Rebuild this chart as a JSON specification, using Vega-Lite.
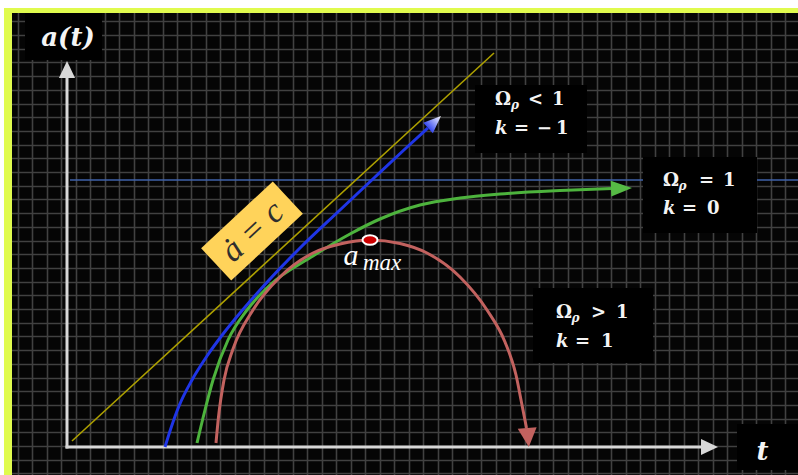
{
  "$schema": "https://vega.github.io/schema/vega-lite/v6.json",
  "width": 798,
  "height": 475,
  "autosize": "none",
  "padding": 0,
  "background": "#ffffff",
  "view": {"fill": "#050505", "stroke": null},
  "config": {
    "axis": {"labels": false, "ticks": false, "domain": false, "title": null, "grid": false}
  },
  "datasets": {
    "curves": [
      {"series": "open", "t": 9.8, "a": 0.0},
      {"series": "open", "t": 10.4, "a": 1.9},
      {"series": "open", "t": 11.2, "a": 4.1},
      {"series": "open", "t": 12.5, "a": 6.7},
      {"series": "open", "t": 14.0, "a": 9.1},
      {"series": "open", "t": 15.6, "a": 11.3},
      {"series": "open", "t": 17.3, "a": 13.4},
      {"series": "open", "t": 20.3, "a": 16.8},
      {"series": "open", "t": 23.3, "a": 19.9},
      {"series": "open", "t": 27.3, "a": 23.7},
      {"series": "open", "t": 30.8, "a": 27.0},
      {"series": "open", "t": 33.8, "a": 29.8},
      {"series": "open", "t": 36.1, "a": 31.9},
      {"series": "flat", "t": 13.0, "a": 0.4},
      {"series": "flat", "t": 13.8, "a": 3.7},
      {"series": "flat", "t": 14.6, "a": 6.7},
      {"series": "flat", "t": 16.1, "a": 10.7},
      {"series": "flat", "t": 18.0, "a": 13.7},
      {"series": "flat", "t": 20.3, "a": 16.2},
      {"series": "flat", "t": 24.6, "a": 19.1},
      {"series": "flat", "t": 28.3, "a": 21.3},
      {"series": "flat", "t": 31.3, "a": 22.8},
      {"series": "flat", "t": 35.3, "a": 24.2},
      {"series": "flat", "t": 39.3, "a": 24.9},
      {"series": "flat", "t": 43.3, "a": 25.3},
      {"series": "flat", "t": 49.3, "a": 25.65},
      {"series": "flat", "t": 54.5, "a": 25.85},
      {"series": "closed", "t": 14.9, "a": 0.4},
      {"series": "closed", "t": 15.15, "a": 3.0},
      {"series": "closed", "t": 15.7, "a": 6.7},
      {"series": "closed", "t": 16.6, "a": 9.8},
      {"series": "closed", "t": 18.6, "a": 13.7},
      {"series": "closed", "t": 21.3, "a": 17.0},
      {"series": "closed", "t": 24.6, "a": 19.4},
      {"series": "closed", "t": 27.3, "a": 20.3},
      {"series": "closed", "t": 30.3, "a": 20.7},
      {"series": "closed", "t": 33.3, "a": 20.35},
      {"series": "closed", "t": 36.0, "a": 19.4},
      {"series": "closed", "t": 39.3, "a": 17.0},
      {"series": "closed", "t": 42.0, "a": 13.7},
      {"series": "closed", "t": 43.8, "a": 10.5},
      {"series": "closed", "t": 44.9, "a": 7.2},
      {"series": "closed", "t": 45.5, "a": 4.2},
      {"series": "closed", "t": 45.95, "a": 1.9}
    ],
    "tips": [
      {"series": "open", "t": 36.75, "a": 32.5},
      {"series": "flat", "t": 55.45, "a": 25.87},
      {"series": "closed", "t": 46.1, "a": 0.95},
      {"series": "a-axis", "t": 0.0, "a": 37.75},
      {"series": "t-axis", "t": 64.25, "a": 0.0}
    ],
    "guides": [
      {"guide": "light", "t": 0.5, "a": 0.6, "t2": 42.7, "a2": 39.4},
      {"guide": "level", "t": 0.3, "a": 26.7, "t2": 73.1, "a2": 26.7},
      {"guide": "a-axis", "t": 0.0, "a": -0.15, "t2": 0.0, "a2": 36.9},
      {"guide": "t-axis", "t": -0.15, "a": 0.0, "t2": 63.4, "a2": 0.0}
    ],
    "frame": [
      {"part": "outer-top", "t": -6.7, "t2": 73.1, "a": 44.7, "a2": 43.9},
      {"part": "outer-left", "t": -6.7, "t2": -6.3, "a": 44.7, "a2": -2.8},
      {"part": "rim-top", "t": -6.3, "t2": 73.1, "a": 43.9, "a2": 43.4},
      {"part": "rim-left", "t": -6.3, "t2": -5.5, "a": 43.9, "a2": -2.8}
    ],
    "boxes": [
      {"box": "Omega<1", "t": 40.8, "t2": 52.0, "a": 36.2, "a2": 29.4},
      {"box": "Omega=1", "t": 57.6, "t2": 69.0, "a": 29.0, "a2": 21.4},
      {"box": "Omega>1", "t": 46.6, "t2": 58.6, "a": 15.9, "a2": 8.4},
      {"box": "a(t)", "t": -4.2, "t2": 3.5, "a": 43.4, "a2": 38.7},
      {"box": "t", "t": 67.0, "t2": 73.1, "a": 2.3, "a2": -2.3}
    ],
    "terms": [
      {"text": "Ω", "role": "symbol", "t": 42.8, "a": 34.2},
      {"text": "ρ", "role": "subscript", "t": 44.4, "a": 33.8},
      {"text": "<", "role": "symbol", "t": 46.1, "a": 34.2},
      {"text": "1", "role": "symbol", "t": 48.5, "a": 34.2},
      {"text": "k", "role": "variable", "t": 42.8, "a": 31.3},
      {"text": "=", "role": "symbol", "t": 44.7, "a": 31.3},
      {"text": "−", "role": "symbol", "t": 47.0, "a": 31.3},
      {"text": "1", "role": "symbol", "t": 48.9, "a": 31.3},
      {"text": "Ω", "role": "symbol", "t": 59.6, "a": 26.1},
      {"text": "ρ", "role": "subscript", "t": 61.15, "a": 25.7},
      {"text": "=", "role": "symbol", "t": 63.2, "a": 26.1},
      {"text": "1", "role": "symbol", "t": 65.6, "a": 26.1},
      {"text": "k", "role": "variable", "t": 59.6, "a": 23.3},
      {"text": "=", "role": "symbol", "t": 61.5, "a": 23.3},
      {"text": "0", "role": "symbol", "t": 64.0, "a": 23.3},
      {"text": "Ω", "role": "symbol", "t": 48.9, "a": 12.9},
      {"text": "ρ", "role": "subscript", "t": 50.45, "a": 12.5},
      {"text": ">", "role": "symbol", "t": 52.4, "a": 12.9},
      {"text": "1", "role": "symbol", "t": 54.9, "a": 12.9},
      {"text": "k", "role": "variable", "t": 48.9, "a": 10.0},
      {"text": "=", "role": "symbol", "t": 50.8, "a": 10.0},
      {"text": "1", "role": "symbol", "t": 53.4, "a": 10.0}
    ],
    "axisnames": [
      {"text": "a(t)", "t": 0.1, "a": 40.1},
      {"text": "t", "t": 69.55, "a": -1.3}
    ],
    "peak": [
      {"text": "a", "t": 30.3, "a": 20.7}
    ]
  },
  "encoding": {
    "x": {
      "field": "t", "type": "quantitative",
      "scale": {"domain": [-6.7, 73.1], "nice": false, "zero": false},
      "axis": {"title": null, "grid": true, "gridColor": "#414141", "gridWidth": 1.6, "gridOpacity": 1,
        "values": [-4.93, -3.49, -2.04, -0.59, 0.86, 2.31, 3.75, 5.2, 6.65, 8.1, 9.55, 10.99, 12.44, 13.89, 15.34, 16.79, 18.23, 19.68, 21.13, 22.58, 24.03, 25.47, 26.92, 28.37, 29.82, 31.27, 32.71, 34.16, 35.61, 37.06, 38.51, 39.95, 41.4, 42.85, 44.3, 45.75, 47.19, 48.64, 50.09, 51.54, 52.99, 54.43, 55.88, 57.33, 58.78, 60.23, 61.67, 63.12, 64.57, 66.02, 67.47, 68.91, 70.36, 71.81]}
    },
    "y": {
      "field": "a", "type": "quantitative",
      "scale": {"domain": [-2.8, 44.7], "nice": false, "zero": false},
      "axis": {"title": null, "grid": true, "gridColor": "#414141", "gridWidth": 1.6, "gridOpacity": 1,
        "values": [42.57, 41.2, 39.83, 38.46, 37.09, 35.72, 34.35, 32.98, 31.61, 30.24, 28.87, 27.5, 26.13, 24.76, 23.39, 22.02, 20.65, 19.28, 17.91, 16.54, 15.17, 13.8, 12.43, 11.06, 9.69, 8.32, 6.95, 5.58, 4.21, 2.84, 1.47, 0.1, -1.27, -2.64]}
    }
  },
  "layer": [
    {
      "data": {"name": "frame"},
      "transform": [{"filter": "indexof(datum.part, 'outer') === 0"}],
      "mark": {"type": "rect", "fill": "#ffffff"},
      "encoding": {"x2": {"field": "t2"}, "y2": {"field": "a2"}}
    },
    {
      "data": {"name": "frame"},
      "transform": [{"filter": "indexof(datum.part, 'rim') === 0"}],
      "mark": {"type": "rect", "fill": "#e0fb4e"},
      "encoding": {"x2": {"field": "t2"}, "y2": {"field": "a2"}}
    },
    {
      "data": {"name": "guides"},
      "transform": [{"filter": "datum.guide === 'level'"}],
      "mark": {"type": "rule", "stroke": "#3f62a8", "strokeWidth": 1.3},
      "encoding": {"x2": {"field": "t2"}, "y2": {"field": "a2"}}
    },
    {
      "data": {"name": "guides"},
      "transform": [{"filter": "datum.guide === 'light'"}],
      "mark": {"type": "rule", "stroke": "#ada000", "strokeWidth": 1.6},
      "encoding": {"x2": {"field": "t2"}, "y2": {"field": "a2"}}
    },
    {
      "data": {"name": "guides"},
      "transform": [{"filter": "datum.guide === 'a-axis' || datum.guide === 't-axis'"}],
      "mark": {"type": "rule", "stroke": "#d8d8d8", "strokeWidth": 3},
      "encoding": {"x2": {"field": "t2"}, "y2": {"field": "a2"}}
    },
    {
      "data": {"name": "curves"},
      "mark": {"type": "line", "strokeWidth": 3, "interpolate": "monotone"},
      "encoding": {
        "color": {"field": "series", "type": "nominal", "legend": null,
          "scale": {"domain": ["open", "flat", "closed"], "range": ["#1f35e6", "#4db33d", "#c2625f"]}}
      }
    },
    {
      "data": {"name": "tips"},
      "transform": [{"filter": "datum.series === 'open'"}],
      "mark": {"type": "point", "filled": true, "opacity": 1, "size": 313, "angle": 47, "strokeWidth": 0,
        "shape": "M0,-1L0.8,1L-0.8,1Z",
        "fill": {"gradient": "linear", "x1": 0, "y1": 0, "x2": 0, "y2": 1, "stops": [{"offset": 0, "color": "#ffffff"}, {"offset": 1, "color": "#3447ee"}]}}
    },
    {
      "data": {"name": "tips"},
      "transform": [{"filter": "datum.series === 'flat'"}],
      "mark": {"type": "point", "filled": true, "opacity": 1, "size": 441, "angle": 88, "strokeWidth": 0,
        "shape": "M0,-1L0.75,1L-0.75,1Z", "fill": "#56bb45"}
    },
    {
      "data": {"name": "tips"},
      "transform": [{"filter": "datum.series === 'closed'"}],
      "mark": {"type": "point", "filled": true, "opacity": 1, "size": 361, "angle": 175, "strokeWidth": 0,
        "shape": "M0,-1L1,1L-1,1Z", "fill": "#c2625f"}
    },
    {
      "data": {"name": "tips"},
      "transform": [{"filter": "datum.series === 'a-axis'"}],
      "mark": {"type": "point", "filled": true, "opacity": 1, "size": 289, "angle": 0, "strokeWidth": 0,
        "shape": "M0,-1L0.95,1L-0.95,1Z", "fill": "#d8d8d8"}
    },
    {
      "data": {"name": "tips"},
      "transform": [{"filter": "datum.series === 't-axis'"}],
      "mark": {"type": "point", "filled": true, "opacity": 1, "size": 289, "angle": 90, "strokeWidth": 0,
        "shape": "M0,-1L0.95,1L-0.95,1Z", "fill": "#d8d8d8"}
    },
    {
      "data": {"values": [{"text": "ȧ = c", "t": 18.5, "a": 21.6}]},
      "layer": [
        {
          "mark": {"type": "point", "filled": true, "opacity": 1, "size": 9604, "angle": -43, "strokeWidth": 0,
            "shape": "M-1,-0.45L1,-0.45L1,0.45L-1,0.45Z", "fill": "#ffd35a"}
        },
        {
          "mark": {"type": "text", "angle": -43, "font": "Liberation Serif", "fontStyle": "italic", "fontSize": 34,
            "fill": "#2e2e2e", "align": "center", "baseline": "middle", "dy": 1},
          "encoding": {"text": {"field": "text"}}
        }
      ]
    },
    {
      "data": {"name": "peak"},
      "layer": [
        {
          "mark": {"type": "point", "filled": true, "opacity": 1, "size": 225,
            "shape": "M-1,0A1,0.62 0 1,1 1,0A1,0.62 0 1,1 -1,0Z",
            "fill": "#cc0000", "stroke": "#ffffff", "strokeWidth": 2}
        },
        {
          "mark": {"type": "text", "font": "Liberation Serif", "fontStyle": "italic", "fontSize": 30,
            "fill": "#ffffff", "align": "center", "baseline": "alphabetic", "dx": -19, "dy": 25},
          "encoding": {"text": {"value": "a"}}
        },
        {
          "mark": {"type": "text", "font": "Liberation Serif", "fontStyle": "italic", "fontSize": 23,
            "fill": "#ffffff", "align": "left", "baseline": "alphabetic", "dx": -7, "dy": 30},
          "encoding": {"text": {"value": "max"}}
        }
      ]
    },
    {
      "data": {"name": "boxes"},
      "mark": {"type": "rect", "fill": "#000000"},
      "encoding": {"x2": {"field": "t2"}, "y2": {"field": "a2"}}
    },
    {
      "data": {"name": "terms"},
      "transform": [{"filter": "datum.role === 'symbol'"}],
      "mark": {"type": "text", "font": "DejaVu Serif", "fontWeight": "bold", "fontSize": 18,
        "fill": "#f4f4f4", "align": "left", "baseline": "alphabetic"},
      "encoding": {"text": {"field": "text"}}
    },
    {
      "data": {"name": "terms"},
      "transform": [{"filter": "datum.role === 'variable'"}],
      "mark": {"type": "text", "font": "DejaVu Serif", "fontWeight": "bold", "fontStyle": "italic", "fontSize": 18,
        "fill": "#f4f4f4", "align": "left", "baseline": "alphabetic"},
      "encoding": {"text": {"field": "text"}}
    },
    {
      "data": {"name": "terms"},
      "transform": [{"filter": "datum.role === 'subscript'"}],
      "mark": {"type": "text", "font": "DejaVu Serif", "fontWeight": "bold", "fontStyle": "italic", "fontSize": 12,
        "fill": "#f4f4f4", "align": "left", "baseline": "alphabetic"},
      "encoding": {"text": {"field": "text"}}
    },
    {
      "data": {"name": "axisnames"},
      "mark": {"type": "text", "font": "DejaVu Serif", "fontWeight": "bold", "fontStyle": "italic", "fontSize": 26,
        "fill": "#f4f4f4", "align": "center", "baseline": "alphabetic"},
      "encoding": {"text": {"field": "text"}}
    }
  ]
}
